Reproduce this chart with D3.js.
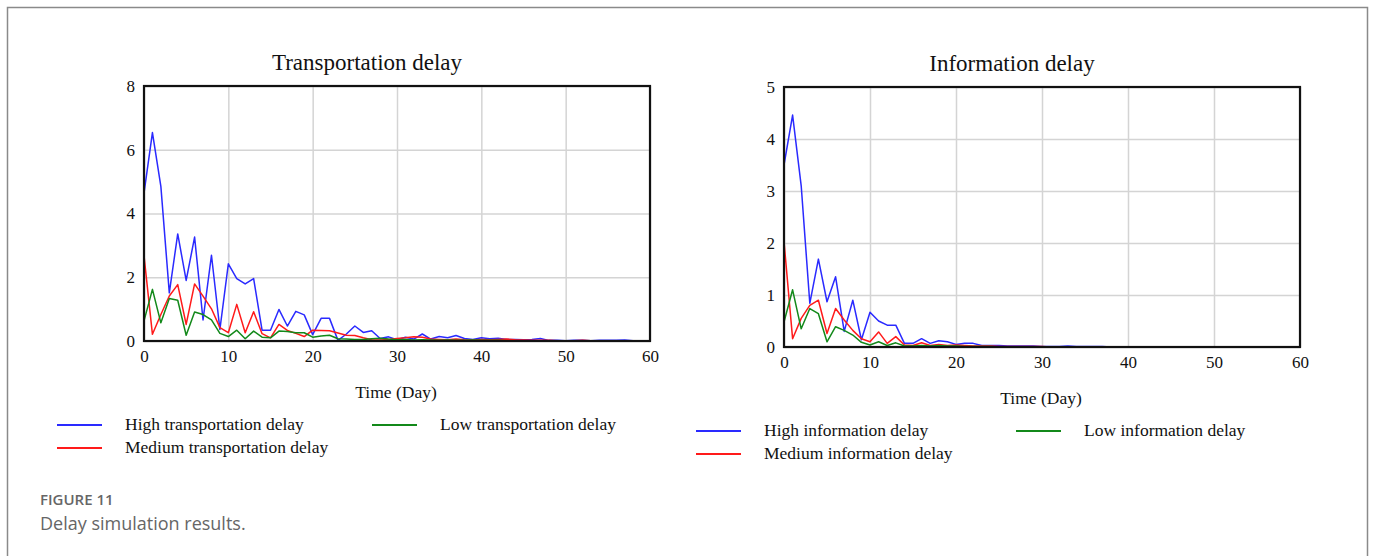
<!DOCTYPE html>
<html>
<head>
<meta charset="utf-8">
<script src="https://cdn.jsdelivr.net/npm/d3@7"></script>
<style>
  body { margin: 0; background: #fff; }
  .tick text { font-family: "Liberation Serif", "Times New Roman", serif; font-size: 17px; fill: #111; }
</style>
</head>
<body>
<div id="my_dataviz"></div>
<script>
// values, one per day (day 0 .. 60)
var highTransport = [4.64, 6.54, 4.85, 1.51, 3.36, 1.90, 3.26, 0.66, 2.69, 0.36,
  2.42, 1.96, 1.79, 1.96, 0.34, 0.34, 0.99, 0.47, 0.93, 0.82,
  0.20, 0.71, 0.71, 0.02, 0.22, 0.47, 0.27, 0.32, 0.08, 0.13,
  0.04, 0.12, 0.06, 0.22, 0.06, 0.14, 0.10, 0.17, 0.08, 0.05,
  0.10, 0.07, 0.09, 0.05, 0.05, 0.04, 0.05, 0.08, 0.02, 0.02,
  0.01, 0.02, 0.02, 0.01, 0.02, 0.02, 0.02, 0.03, 0.01, 0.01, 0.01];
var mediumTransport = [2.68, 0.21, 0.83, 1.41, 1.77, 0.52, 1.79, 1.41, 1.01, 0.42,
  0.26, 1.15, 0.26, 0.92, 0.23, 0.10, 0.52, 0.33, 0.24, 0.14,
  0.34, 0.33, 0.32, 0.25, 0.18, 0.17, 0.10, 0.04, 0.03, 0.05,
  0.08, 0.10, 0.13, 0.12, 0.06, 0.05, 0.04, 0.06, 0.04, 0.03,
  0.05, 0.04, 0.05, 0.06, 0.04, 0.03, 0.02, 0.02, 0.02, 0.01,
  0.01, 0.01, 0.02, 0.01, 0.01, 0.01, 0.01, 0.01, 0.01, 0.01, 0.01];
var lowTransport = [0.63, 1.62, 0.57, 1.33, 1.28, 0.18, 0.91, 0.83, 0.66, 0.24,
  0.14, 0.34, 0.07, 0.31, 0.12, 0.10, 0.31, 0.30, 0.26, 0.26,
  0.12, 0.16, 0.18, 0.07, 0.06, 0.05, 0.05, 0.07, 0.09, 0.06,
  0.04, 0.05, 0.03, 0.04, 0.03, 0.02, 0.03, 0.02, 0.02, 0.03,
  0.02, 0.02, 0.02, 0.01, 0.01, 0.01, 0.01, 0.01, 0.01, 0.01,
  0.01, 0.01, 0.01, 0.01, 0.01, 0.01, 0.01, 0.01, 0.01, 0.01, 0.01];

var highInfo = [3.50, 4.46, 3.10, 0.84, 1.69, 0.87, 1.35, 0.30, 0.90, 0.14,
  0.67, 0.50, 0.42, 0.42, 0.07, 0.07, 0.16, 0.07, 0.12, 0.10,
  0.05, 0.07, 0.07, 0.03, 0.03, 0.03, 0.02, 0.02, 0.02, 0.02,
  0.01, 0.01, 0.01, 0.02, 0.01, 0.01, 0.01, 0.01, 0.00, 0.00,
  0.00, 0.00, 0.00, 0.00, 0.00, 0.00, 0.00, 0.00, 0.00, 0.00,
  0.00, 0.00, 0.00, 0.00, 0.00, 0.00, 0.00, 0.00, 0.00, 0.00, 0.00];
var mediumInfo = [2.03, 0.16, 0.55, 0.80, 0.90, 0.26, 0.74, 0.52, 0.32, 0.16,
  0.10, 0.29, 0.07, 0.20, 0.04, 0.03, 0.08, 0.03, 0.05, 0.03,
  0.04, 0.03, 0.02, 0.02, 0.02, 0.01, 0.01, 0.01, 0.01, 0.01,
  0.01, 0.00, 0.00, 0.00, 0.00, 0.00, 0.00, 0.00, 0.00, 0.00,
  0.00, 0.00, 0.00, 0.00, 0.00, 0.00, 0.00, 0.00, 0.00, 0.00,
  0.00, 0.00, 0.00, 0.00, 0.00, 0.00, 0.00, 0.00, 0.00, 0.00, 0.00];
var lowInfo = [0.48, 1.10, 0.35, 0.74, 0.64, 0.10, 0.39, 0.32, 0.23, 0.09,
  0.04, 0.10, 0.03, 0.08, 0.02, 0.02, 0.03, 0.02, 0.03, 0.02,
  0.02, 0.01, 0.01, 0.01, 0.01, 0.00, 0.00, 0.00, 0.00, 0.00,
  0.00, 0.00, 0.00, 0.00, 0.00, 0.00, 0.00, 0.00, 0.00, 0.00,
  0.00, 0.00, 0.00, 0.00, 0.00, 0.00, 0.00, 0.00, 0.00, 0.00,
  0.00, 0.00, 0.00, 0.00, 0.00, 0.00, 0.00, 0.00, 0.00, 0.00, 0.00];

var xTicks = [0, 10, 20, 30, 40, 50, 60];
var transportTicks = [0, 2, 4, 6, 8];
var infoTicks = [0, 1, 2, 3, 4, 5];

var colors = {high: "#2a2aff", medium: "#ff1a1a", low: "#13891a"};

var svg = d3.select("#my_dataviz")
  .append("svg")
  .attr("width", 1375)
  .attr("height", 556);

// figure frame
svg.append("path")
  .attr("d", "M7.5,556 V7.5 H1367.5 V556")
  .attr("fill", "none")
  .attr("stroke", "#8a8a8a")
  .attr("stroke-width", 1.5);

function drawPanel(p) {
  var x = d3.scaleLinear().domain([0, 60]).range([p.left, p.right]);
  var y = d3.scaleLinear().domain([0, p.yTicks[p.yTicks.length - 1]]).range([p.bottom, p.top]);
  var g = svg.append("g");

  // grid
  g.append("g")
    .attr("transform", "translate(0," + p.bottom + ")")
    .call(d3.axisBottom(x).tickValues(xTicks).tickSize(p.top - p.bottom).tickFormat(""))
    .call(function(s) { s.select(".domain").remove(); })
    .selectAll("line").attr("stroke", "#d4d4d4").attr("stroke-width", 1.5);
  g.append("g")
    .attr("transform", "translate(" + p.left + ",0)")
    .call(d3.axisLeft(y).tickValues(p.yTicks).tickSize(p.left - p.right).tickFormat(""))
    .call(function(s) { s.select(".domain").remove(); })
    .selectAll("line").attr("stroke", "#d4d4d4").attr("stroke-width", 1.5);

  // tick labels
  g.append("g")
    .attr("transform", "translate(0," + p.bottom + ")")
    .call(d3.axisBottom(x).tickValues(xTicks).tickSize(0).tickPadding(9).tickFormat(d3.format("d")))
    .call(function(s) { s.select(".domain").remove(); });
  g.append("g")
    .attr("transform", "translate(" + p.left + ",0)")
    .call(d3.axisLeft(y).tickValues(p.yTicks).tickSize(0).tickPadding(9).tickFormat(d3.format("d")))
    .call(function(s) { s.select(".domain").remove(); });

  // series
  var line = d3.line()
    .x(function(d, i) { return x(i); })
    .y(function(d) { return y(d); });
  p.series.forEach(function(s) {
    g.append("path")
      .datum(s.values)
      .attr("fill", "none")
      .attr("stroke", colors[s.level])
      .attr("stroke-width", 1.5)
      .attr("stroke-linejoin", "round")
      .attr("d", line);
  });

  // plot frame
  g.append("rect")
    .attr("x", p.left).attr("y", p.top)
    .attr("width", p.right - p.left).attr("height", p.bottom - p.top)
    .attr("fill", "none").attr("stroke", "#111").attr("stroke-width", 2.2);

  g.append("text")
    .attr("x", (p.left + p.right) / 2 - 30).attr("y", p.top - 16)
    .attr("text-anchor", "middle")
    .style("font-family", "Liberation Serif, serif").style("font-size", "23px").attr("fill", "#111")
    .text(p.title);

  g.append("text")
    .attr("x", (p.left + p.right) / 2 - 1).attr("y", p.bottom + 57)
    .attr("text-anchor", "middle")
    .style("font-family", "Liberation Serif, serif").style("font-size", "17.5px").attr("fill", "#111")
    .text("Time (Day)");

  // legend
  var items = [
    {s: p.series[0], lx: p.legX, ly: p.legY},
    {s: p.series[1], lx: p.legX, ly: p.legY + 23},
    {s: p.series[2], lx: p.legX2, ly: p.legY}
  ];
  items.forEach(function(it) {
    g.append("line")
      .attr("x1", it.lx).attr("x2", it.lx + 45)
      .attr("y1", it.ly).attr("y2", it.ly)
      .attr("stroke", colors[it.s.level]).attr("stroke-width", 2.2);
    g.append("text")
      .attr("x", it.lx + 68).attr("y", it.ly + 5)
      .style("font-family", "Liberation Serif, serif").style("font-size", "17.5px").attr("fill", "#111")
      .text(it.s.name);
  });
}

drawPanel({
  title: "Transportation delay",
  left: 144, right: 650, top: 86, bottom: 341,
  yTicks: transportTicks,
  legX: 57, legX2: 372, legY: 425,
  series: [
    {name: "High transportation delay", level: "high", values: highTransport},
    {name: "Medium transportation delay", level: "medium", values: mediumTransport},
    {name: "Low transportation delay", level: "low", values: lowTransport}
  ]
});

drawPanel({
  title: "Information delay",
  left: 784, right: 1300, top: 87, bottom: 347,
  yTicks: infoTicks,
  legX: 696, legX2: 1016, legY: 431,
  series: [
    {name: "High information delay", level: "high", values: highInfo},
    {name: "Medium information delay", level: "medium", values: mediumInfo},
    {name: "Low information delay", level: "low", values: lowInfo}
  ]
});

// caption
svg.append("text")
  .attr("x", 40).attr("y", 505)
  .style("font-family", "Open Sans, sans-serif").style("font-size", "15px").style("font-weight", 600)
  .attr("fill", "#666")
  .text("FIGURE 11");
svg.append("text")
  .attr("x", 40).attr("y", 530)
  .style("font-family", "Open Sans, sans-serif").style("font-size", "18px")
  .attr("fill", "#666")
  .text("Delay simulation results.");
</script>
</body>
</html>
